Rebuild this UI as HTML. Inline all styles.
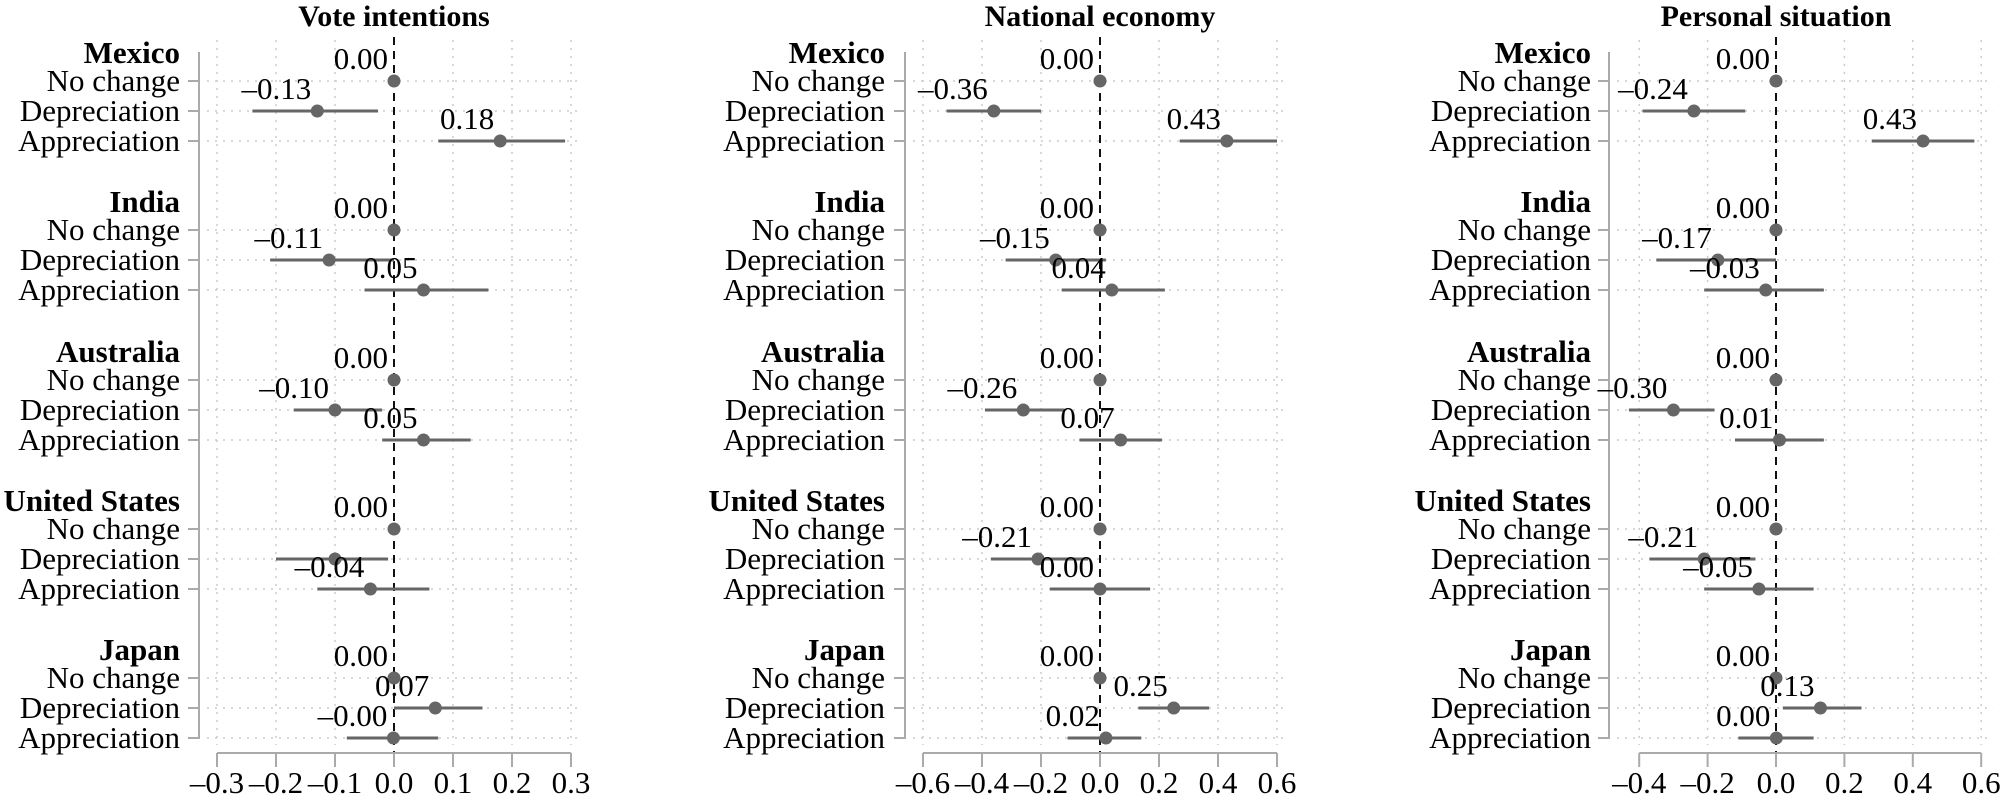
<!DOCTYPE html>
<html><head><meta charset="utf-8"><style>
html,body{margin:0;padding:0;background:#fff;}
svg{display:block;font-family:"Liberation Serif",serif;}
</style></head><body>
<svg id="s" width="2000" height="802" viewBox="0 0 2000 802" xmlns="http://www.w3.org/2000/svg"></svg>
<script>
const S=document.getElementById('s');let h='';
const rowsY=[81,230,380,529,678];
const countries=['Mexico','India','Australia','United States','Japan'];
const cats=['No change','Depreciation','Appreciation'];
const panels=[
 {title:'Vote intentions',axis:199,zero:394,ppu:590,ticks:[-0.3,-0.2,-0.1,0,0.1,0.2,0.3],lab:180,
  d:[[[-0.13,-0.24,-0.027,1],[0.18,0.075,0.29,1]],[[-0.11,-0.21,0.0,1],[0.05,-0.05,0.16,1]],[[-0.10,-0.17,-0.02,1],[0.05,-0.02,0.13,1]],[[-0.10,-0.20,-0.01,0],[-0.04,-0.13,0.06,1]],[[0.07,0.0,0.15,1],[-0.001,-0.08,0.075,1]]]},
 {title:'National economy',axis:905,zero:1100,ppu:295,ticks:[-0.6,-0.4,-0.2,0,0.2,0.4,0.6],lab:885,
  d:[[[-0.36,-0.52,-0.20,1],[0.43,0.27,0.60,1]],[[-0.15,-0.32,0.02,1],[0.04,-0.13,0.22,1]],[[-0.26,-0.39,-0.12,1],[0.07,-0.07,0.21,1]],[[-0.21,-0.37,-0.04,1],[0.00,-0.17,0.17,1]],[[0.25,0.13,0.37,1],[0.02,-0.11,0.14,1]]]},
 {title:'Personal situation',axis:1609,zero:1776,ppu:342,ticks:[-0.4,-0.2,0,0.2,0.4,0.6],lab:1591,
  d:[[[-0.24,-0.39,-0.09,1],[0.43,0.28,0.58,1]],[[-0.17,-0.35,0.0,1],[-0.03,-0.21,0.14,1]],[[-0.30,-0.43,-0.18,1],[0.01,-0.12,0.14,1]],[[-0.21,-0.37,-0.06,1],[-0.05,-0.21,0.11,1]],[[0.13,0.02,0.25,1],[0.001,-0.11,0.11,1]]]}
];
function fmt(v,d){let s=Math.abs(v).toFixed(d);return (v<0?'\u2013':'')+s;}
panels.forEach(p=>{
 const X=v=>p.zero+v*p.ppu;
 const x0=X(p.ticks[0]),x1=X(p.ticks[p.ticks.length-1]);
 // vertical grid
 p.ticks.forEach(t=>{if(Math.abs(t)>1e-9)h+=`<line x1="${X(t)}" y1="40" x2="${X(t)}" y2="745" stroke="#ccc" stroke-width="1.5" stroke-dasharray="2,6"/>`;});
 // horizontal grid + row labels
 rowsY.forEach((y0,i)=>{
  h+=`<text x="${p.lab}" y="${y0-18}" font-size="31" font-weight="bold" text-anchor="end">${countries[i]}</text>`;
  for(let k=0;k<3;k++){const y=y0+k*30;
   h+=`<line x1="${p.axis+8}" y1="${y}" x2="${x1+12}" y2="${y}" stroke="#ccc" stroke-width="1.5" stroke-dasharray="2,6"/>`;
   h+=`<line x1="${p.axis-11}" y1="${y}" x2="${p.axis}" y2="${y}" stroke="#aaa" stroke-width="2"/>`;
   h+=`<text x="${p.lab}" y="${y+10}" font-size="31" text-anchor="end">${cats[k]}</text>`;}
 });
 h+=`<line x1="${p.axis}" y1="52" x2="${p.axis}" y2="739" stroke="#aaa" stroke-width="2"/>`;
 // zero line
 h+=`<line x1="${p.zero}" y1="37" x2="${p.zero}" y2="753" stroke="#111" stroke-width="2" stroke-dasharray="8,6"/>`;
 // bottom axis
 h+=`<line x1="${x0}" y1="753" x2="${x1}" y2="753" stroke="#aaa" stroke-width="2"/>`;
 p.ticks.forEach(t=>{h+=`<line x1="${X(t)}" y1="753" x2="${X(t)}" y2="767" stroke="#aaa" stroke-width="2"/>`;
  h+=`<text x="${X(t)}" y="793" font-size="31" text-anchor="middle">${fmt(t,1)}</text>`;});
 h+=`<text x="${p.zero}" y="26" font-size="30" font-weight="bold" text-anchor="middle">${p.title}</text>`;
 // data
 rowsY.forEach((y0,i)=>{
  h+=`<circle cx="${p.zero}" cy="${y0}" r="6.5" fill="#666"/>`;
  h+=`<text x="${p.zero-6}" y="${y0-12}" font-size="31" text-anchor="end">0.00</text>`;
  p.d[i].forEach((r,k)=>{const y=y0+(k+1)*30;
   h+=`<line x1="${X(r[1])}" y1="${y}" x2="${X(r[2])}" y2="${y}" stroke="#666" stroke-width="3"/>`;
   h+=`<circle cx="${X(r[0])}" cy="${y}" r="6.5" fill="#666"/>`;
   if(r[3])h+=`<text x="${X(r[0])-6}" y="${y-12}" font-size="31" text-anchor="end">${fmt(r[0],2)}</text>`;
  });
 });
});
S.innerHTML=h;
</script>
</body></html>
